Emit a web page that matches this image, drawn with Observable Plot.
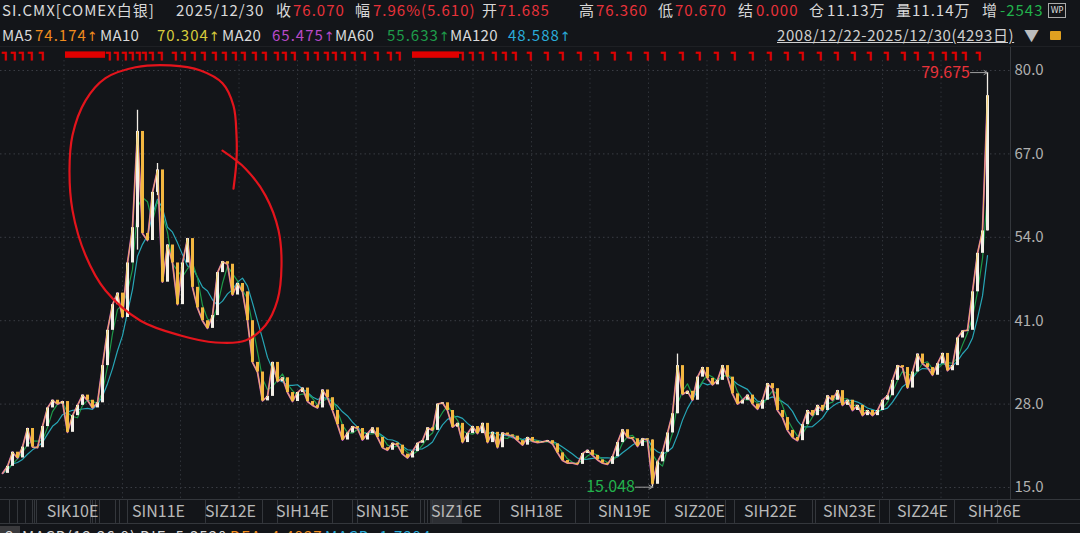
<!DOCTYPE html>
<html><head><meta charset="utf-8">
<script src="https://cdn.jsdelivr.net/npm/d3@7"></script>
<script src="https://cdn.jsdelivr.net/npm/@observablehq/plot@0.6"></script>
<style>
html,body{margin:0;padding:0;background:#131519;width:1080px;height:533px;overflow:hidden;font-family:"Noto Sans CJK SC","Noto Sans",sans-serif;}
#wrap{position:relative;width:1080px;height:533px;overflow:hidden;}
.t{position:absolute;white-space:nowrap;font-size:15px;letter-spacing:1px;line-height:20px;color:#d9d9d9;}
.r1{top:0px}.r2{top:25px}
.lab{letter-spacing:0.3px}
.ar{font-family:"DejaVu Sans",sans-serif;font-size:13px;letter-spacing:0}
.red{color:#e8323a}.grn{color:#22b24c}.org{color:#f08c1e}.yel{color:#d6cb3c}.pur{color:#b94ac9}.g60{color:#1e9c4a}.cyn{color:#2aabd8}
#chart{position:absolute;left:0;top:0;}
.band{position:absolute;left:0;width:1080px;height:0;border-top:1px solid #34373c;}
</style></head>
<body><div id="wrap">
<div class="band" style="top:499px"></div>
<div class="band" style="top:523px"></div>
<div style="position:absolute;left:430px;top:500px;width:32px;height:23px;background:#2c2e33"></div>
<div style="position:absolute;left:1010px;top:47px;width:1px;height:452px;background:#34373c"></div>
<div style="position:absolute;left:0;top:46px;width:1080px;height:1px;background:#1e2024"></div>

<div class="t r1" style="left:2px">SI.CMX[COMEX白银]</div>
<div class="t r1" style="left:176px">2025/12/30</div>
<div class="t r1" style="left:276px">收</div><div class="t r1 red" style="left:293px">76.070</div>
<div class="t r1" style="left:355px">幅</div><div class="t r1 red" style="left:373px">7.96%(5.610)</div>
<div class="t r1" style="left:482px">开</div><div class="t r1 red" style="left:498px">71.685</div>
<div class="t r1" style="left:579px">高</div><div class="t r1 red" style="left:596px">76.360</div>
<div class="t r1" style="left:658px">低</div><div class="t r1 red" style="left:675px">70.670</div>
<div class="t r1" style="left:738px">结</div><div class="t r1 red" style="left:756px">0.000</div>
<div class="t r1" style="left:809px">仓</div><div class="t r1" style="left:827px">11.13万</div>
<div class="t r1" style="left:896px">量</div><div class="t r1" style="left:912px">11.14万</div>
<div class="t r1" style="left:982px">增</div><div class="t r1 grn" style="left:1000px">-2543</div>
<div style="position:absolute;left:1048px;top:3px;width:16px;height:13px;border:1px solid #aaa;font-size:8px;color:#ddd;line-height:13px;text-align:center;font-family:'DejaVu Sans'">WP</div>

<div class="t r2 lab" style="left:2px">MA5</div><div class="t r2 org" style="left:35px">74.174<span class="ar">↑</span></div>
<div class="t r2 lab" style="left:100px">MA10</div><div class="t r2 yel" style="left:157px">70.304<span class="ar">↑</span></div>
<div class="t r2 lab" style="left:222px">MA20</div><div class="t r2 pur" style="left:272px">65.475<span class="ar">↑</span></div>
<div class="t r2 lab" style="left:335px">MA60</div><div class="t r2 g60" style="left:387px">55.633<span class="ar">↑</span></div>
<div class="t r2 lab" style="left:450px">MA120</div><div class="t r2 cyn" style="left:508px">48.588<span class="ar">↑</span></div>
<div class="t r2" style="left:777px;letter-spacing:0.6px;text-decoration:underline;color:#d0d0d0">2008/12/22-2025/12/30(4293日)</div>
<div class="t r2" style="left:1024px;color:#bdbdbd">▼</div>
<div style="position:absolute;left:1050px;top:31px;width:11px;height:9px;background:#e0a020;border-radius:1px"></div>

<div class="t" style="top:526px;left:0;width:20px;background:#3a3a3d;text-align:center">2</div>
<div class="t" style="top:526px;left:22px">MACD(12,26,9)</div>
<div class="t" style="top:526px;left:140px">DIF: 5.3520</div>
<div class="t org" style="top:526px;left:230px">DEA: 4.4927</div>
<div class="t cyn" style="top:526px;left:325px">MACD: 1.7294</div>
<div id="chart"></div>
</div>
<script>
// Closing prices (USD/oz), one value per ~5px time step
const closes = [
 17.2, 18.3, 20.5, 19.6, 21.3, 24.2, 21.3, 21.2, 24.5, 27.4,
 28.6, 28.0, 28.4, 23.6, 26.2, 27.8, 29.4, 28.6, 27.4, 28.2,
 34.0, 39.5, 43.5, 45.3, 41.5, 50.0, 55.5, 70.5, 54.6, 53.5,
 61.0, 64.5, 47.0, 52.8, 50.0, 43.5, 50.0, 53.8, 46.2, 43.0,
 41.0, 39.8, 41.8, 48.5, 50.2, 49.8, 45.0, 46.8, 45.5, 41.0,
 34.5, 33.0, 28.5, 29.2, 34.5, 31.5, 32.1, 29.8, 28.4, 29.8,
 30.5, 28.4, 27.8, 27.4, 30.2, 29.0, 27.0, 24.8, 22.4, 23.5,
 24.5, 24.2, 22.4, 23.4, 24.3, 22.8, 21.2, 20.8, 21.9, 21.6,
 20.2, 19.6, 20.6, 21.9, 22.3, 24.3, 23.9, 28.0, 28.2, 27.0,
 24.4, 25.0, 22.0, 23.4, 24.5, 23.4, 25.0, 22.0, 23.6, 21.2,
 23.5, 23.2, 23.0, 22.3, 21.6, 22.8, 22.2, 22.0, 22.1, 22.3,
 21.8, 20.4, 19.2, 18.8, 18.8, 18.6, 20.3, 20.8, 20.0, 19.3,
 18.8, 18.6, 19.8, 22.0, 24.0, 22.8, 22.6, 21.4, 22.6, 22.4,
 15.5, 19.0, 20.5, 23.5, 26.5, 34.0, 29.5, 30.0, 28.6, 32.2,
 33.7, 32.0, 31.0, 31.7, 34.0, 32.2, 29.6, 28.0, 28.6, 29.4,
 28.0, 27.2, 28.6, 31.2, 30.4, 27.0, 25.9, 23.9, 22.8, 22.3,
 24.8, 27.0, 26.2, 27.8, 27.0, 29.3, 28.6, 30.1, 27.8, 28.6,
 27.0, 27.8, 26.2, 27.0, 26.2, 27.0, 28.6, 29.3, 31.7, 34.0,
 33.7, 30.5, 33.0, 35.8, 34.3, 33.7, 32.5, 34.3, 35.9, 33.2,
 34.0, 38.3, 39.4, 39.5, 45.5, 51.5, 55.0, 76.07
];
// notable wicks: [step, high, low]
const wicks = [[27, 73.8, 52.0], [31, 65.5, 60.5], [135, 35.8, 26.5], [130, 22.4, 15.048], [197, 79.675, 55.0]];
// extreme labels
const highMark = {i: 197, v: 79.675, label: "79.675"};
const lowMark = {i: 130, v: 15.048, label: "15.048"};
// price axis ticks
const priceTicks = [80.0, 67.0, 54.0, 41.0, 28.0, 15.0];
// contract labels on the time axis
const contractLabels = ["SIK10E","SIN11E","SIZ12E","SIH14E","SIN15E","SIZ16E","SIH18E","SIN19E","SIZ20E","SIH22E","SIN23E","SIZ24E","SIH26E"];
const contractSteps = [14.0, 31.2, 45.6, 60.0, 76.0, 90.8, 106.8, 124.4, 139.4, 153.6, 169.4, 184.0, 198.4];
// contract roll marks on the time axis band
const rollSteps = [1.4,3,4.6,6,6.4,6.8,17.6,18,18.6,19.4,22.6,23.4,25,40.6,52,55,66,70,71,83.6,84.4,85,86,99.4,114.6,117.4,132.6,144.6,146.4,162,162.6,175.4,177.4,190.4,199];
// year boundaries
const yearSteps = [12.3, 24.0, 35.6, 47.3, 59.0, 70.7, 82.4, 94.1, 105.8, 117.5, 129.2, 140.9, 152.6, 164.3, 176.0, 187.7];
// event markers along the top
const eventSteps = [0.6,2.4,4,5.8,8,21.4,23,24.6,26,27.4,28.6,30,31.8,34.6,36.4,38.4,40.4,42.6,44.6,46.6,48.4,50.6,52.6,55,56.6,58.4,61,63,65,66.6,68.4,70.4,72.4,75,77.6,79.4,92,94,96,98.6,100.6,102.6,105.6,109,112,115.6,119,122.4,125.6,129,132.4,136,139.4,143,146.4,150,153.6,157,160,163.6,167,170.4,173.6,177,180.4,183,186,188.6,190.6,192.6,195.4];
const eventBlocks = [[12.6, 20.6], [82, 91.4]];
// hand-drawn red circle annotation, [step, price]
const circleStroke = [
 [44.0,67.5],[48.6,64.7],[52.6,60.5],[55.2,55.1],[55.8,49.6],[55.0,44.2],[52.6,40.3],[48.6,37.9],[42.6,37.6],
 [35.6,38.7],[27.6,41.0],[20.6,45.7],[16.6,51.2],[14.0,58.2],[13.4,64.4],[14.0,69.9],[16.6,75.3],[20.6,78.8],
 [26.6,80.5],[33.6,80.8],[39.6,80.0],[44.0,78.0],[46.2,74.5],[46.8,69.9],[46.8,66.0],[46.2,61.6]
];

const rows = closes.map((c, i) => ({i, close: c, open: i ? closes[i-1] : c}));
const wickRows = wicks.map(([i, hi, lo]) => ({i, hi, lo}));
const labelOf = new Map(contractSteps.map((s, k) => [s, contractLabels[k]]));

const font = "'Noto Sans CJK SC','Noto Sans',sans-serif";
const red = "#e00000";
const chart = Plot.plot({
  width: 1080, height: 533,
  marginTop: 60, marginBottom: 34, marginLeft: 0, marginRight: 70,
  style: {background: "transparent", color: "#b4b4b4", fontFamily: font, fontSize: "16px", overflow: "visible"},
  x: {type: "linear", domain: [0, 197], range: [2, 987]},
  y: {type: "linear", domain: [15, 80], range: [487, 70]},
  marks: [
    Plot.ruleY(priceTicks, {stroke: "#3a3d44", strokeDasharray: "1.5,3"}),
    Plot.ruleX(yearSteps, {stroke: "#2f3238", strokeDasharray: "1.5,3"}),
    Plot.ruleX(rollSteps, {y1: 13.1, y2: 9.4, stroke: "#34373c"}),
    Plot.axisY(priceTicks, {anchor: "right", tickSize: 0, tickPadding: 4, tickFormat: d => d.toFixed(1), label: null, fill: "#b0b0b0", fontSize: 15}),
    Plot.axisX(contractSteps, {anchor: "bottom", tickSize: 0, tickPadding: 6, tickFormat: d => labelOf.get(d), label: null, fill: "#b8b8b8", fontSize: 16}),
    Plot.rect(eventBlocks, {x1: d => d[0], x2: d => d[1], y1: 81.9, y2: 82.9, fill: red}),
    Plot.text(eventSteps, {x: d => d, y: 82.75, text: () => "┓", fill: red, fontSize: 13, fontFamily: "DejaVu Sans Mono", lineAnchor: "middle"}),
    Plot.line(rows, Plot.windowY({k: 6, anchor: "end"}, {x: "i", y: "close", stroke: "#27a6b6", strokeWidth: 1.2})),
    Plot.line(rows, Plot.windowY({k: 3, anchor: "end"}, {x: "i", y: "close", stroke: "#1f9a4a", strokeWidth: 1.2})),
    Plot.line(rows, {x: "i", y: "close", stroke: "#d35fc9", strokeWidth: 1.8}),
    Plot.ruleX(wickRows, {x: "i", y1: "lo", y2: "hi", stroke: "#f2eee6", strokeWidth: 1.3}),
    Plot.ruleX(rows, {x: "i", y1: "open", y2: "close", stroke: d => d.close >= d.open ? "#f4f0e8" : "#f2b640", strokeWidth: 3}),
    Plot.line(rows, {x: "i", y: "close", stroke: "#eec24a", strokeWidth: 1, strokeOpacity: 0.85}),
    Plot.arrow([highMark], {x1: d => d.i - 3.4, x2: "i", y1: "v", y2: "v", stroke: "#a0a0a0", headLength: 6, strokeWidth: 1}),
    Plot.text([highMark], {x: d => d.i - 3.5, y: "v", text: "label", textAnchor: "end", fill: "#e8323a", fontSize: 16}),
    Plot.arrow([lowMark], {x1: d => d.i - 3.4, x2: "i", y1: "v", y2: "v", stroke: "#a0a0a0", headLength: 6, strokeWidth: 1}),
    Plot.text([lowMark], {x: d => d.i - 3.5, y: "v", text: "label", textAnchor: "end", fill: "#22b24c", fontSize: 16}),
    Plot.line(circleStroke, {x: d => d[0], y: d => d[1], stroke: "#e3141c", strokeWidth: 2.2, curve: "catmull-rom"})
  ]
});
document.getElementById("chart").appendChild(chart);
</script>
</body></html>
